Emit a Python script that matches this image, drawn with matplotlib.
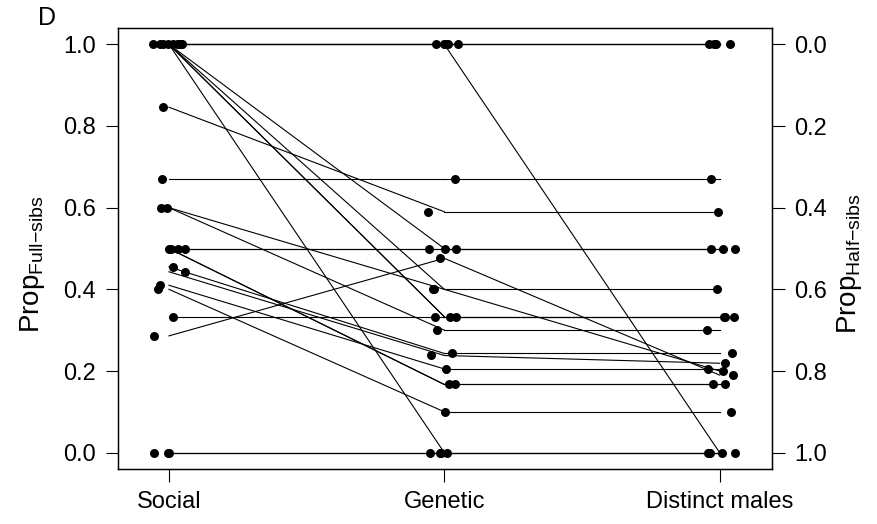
import matplotlib
matplotlib.use("Agg")
import matplotlib.pyplot as plt
import numpy as np

plt.rcParams['font.family'] = 'Liberation Sans'
plt.rcParams['mathtext.fontset'] = 'custom'
plt.rcParams['mathtext.rm'] = 'Liberation Sans'
plt.rcParams['mathtext.it'] = 'Liberation Sans'

# one entry per family: proportion at each stage
social = [1.0, 1.0, 1.0, 1.0, 1.0, 1.0, 1.0, 1.0, 1.0, 1.0,
          0.846, 0.67, 0.6, 0.6, 0.5, 0.5, 0.5, 0.5,
          0.455, 0.443, 0.41, 0.40, 0.333, 0.286, 0.0, 0.0, 0.0]
genetic = [1.0, 1.0, 1.0, 1.0, 1.0, 0.5, 0.4, 0.333, 0.333, 0.0,
           0.59, 0.67, 0.4, 0.3, 0.5, 0.5, 0.167, 0.167,
           0.243, 0.238, 0.205, 0.10, 0.333, 0.476, 0.0, 0.0, 0.0]
distinct = [1.0, 1.0, 1.0, 1.0, 0.0, 0.5, 0.2, 0.333, 0.333, 0.0,
            0.59, 0.67, 0.4, 0.3, 0.5, 0.5, 0.167, 0.167,
            0.243, 0.219, 0.205, 0.10, 0.333, 0.19, 0.0, 0.0, 0.0]
groups = ['Social', 'Genetic', 'Distinct males']

fig = plt.figure(figsize=(8.77, 5.24), dpi=100)
ax = fig.add_axes([118 / 877, 1 - 469 / 524, (772 - 118) / 877, (469 - 28) / 524])

columns = [social, genetic, distinct]

# connecting lines drawn at the group positions
for s, g, d in zip(social, genetic, distinct):
    ax.plot([1, 2], [s, g], color='black', lw=0.8, zorder=2)
    ax.plot([2, 3], [g, d], color='black', lw=0.8, zorder=2)

# jittered points, like stripchart(method="jitter")
rng = np.random.default_rng(7)
for i, col in enumerate(columns):
    jit = rng.uniform(-0.058, 0.058, len(col))
    ax.scatter(i + 1 + jit, col, s=42, color='black', zorder=3, linewidths=0)

ticks = np.arange(0, 1.01, 0.2)
ax.set_xlim(0.815, 3.19)
ax.set_ylim(-0.04, 1.04)
ax.set_xticks([1, 2, 3])
ax.set_xticklabels(groups)
ax.set_yticks(ticks)
ax.set_yticklabels([f"{v:.1f}" for v in ticks])
ax.tick_params(direction='out', length=9, width=0.8, labelsize=17, pad=7)
for sp in ax.spines.values():
    sp.set_linewidth(1.0)
ax.set_ylabel(r'$\mathrm{Prop}_{\mathrm{Full{-}sibs}}$', fontsize=20)
ax.yaxis.set_label_coords(-0.108, 0.465)

ax2 = ax.twinx()
ax2.set_ylim(1.04, -0.04)
ax2.set_yticks(ticks)
ax2.set_yticklabels([f"{v:.1f}" for v in ticks])
ax2.tick_params(direction='out', length=9, width=0.8, labelsize=17, pad=7)
ax2.set_ylabel(r'$\mathrm{Prop}_{\mathrm{Half{-}sibs}}$', fontsize=20)
ax2.yaxis.set_label_coords(1.097, 0.465)

fig.text(38 / 877, 1 - 18 / 524, 'D', fontsize=18, va='center', ha='left')

fig.savefig('out.png', dpi=100)
